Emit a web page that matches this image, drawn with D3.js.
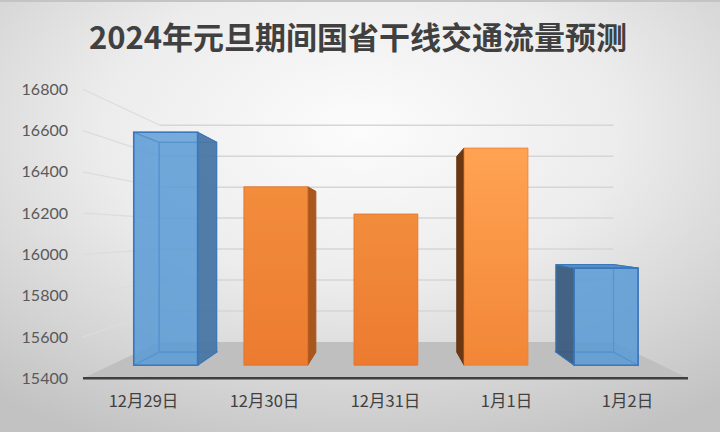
<!DOCTYPE html>
<html>
<head>
<meta charset="utf-8">
<script src="https://cdn.jsdelivr.net/npm/d3@7/dist/d3.min.js"></script>
<style>
  html, body { margin: 0; padding: 0; background: #fff; }
  svg { display: block; }
</style>
</head>
<body>
<svg id="chart" width="720" height="432"></svg>
<script>
// ---- data ----
const title = "2024年元旦期间国省干线交通流量预测";
const categories = ["12月29日", "12月30日", "12月31日", "1月1日", "1月2日"];
const values = [16640, 16350, 16205, 16556, 15917];
const yTicks = [15400, 15600, 15800, 16000, 16200, 16400, 16600, 16800];
const barKinds = ["blue", "orange", "orange", "orangeLight", "blue"];

// ---- styles ----
const palette = {
  blue:        { top: "#5f97cf", bottom: "#5f97cf", side: "#4b77a4", sideL: "#3c5d80", lid: "#5a8fc6", edge: "#3a78bd", transparent: true },
  orange:      { top: "#f28d3c", bottom: "#ec7b30", side: "#a8571f", sideL: "#6e3813", lid: "#f7a25c", edge: "#e2712a", transparent: false },
  orangeLight: { top: "#ffa352", bottom: "#f28637", side: "#a8571f", sideL: "#6a3712", lid: "#ffb26b", edge: "#ec8034", transparent: false }
};

const svg = d3.select("#chart");
const W = 720, H = 432;

// perspective parameters
const vx = 390, vy = 233;     // vanishing point
const kFloorBack = 0.75;      // back wall scale
const kBarFront = 0.91, kBarBack = 0.82;

const x = d3.scaleBand().domain(categories).range([83, 688]).paddingInner(0.42).paddingOuter(0.21);
const y = d3.scaleLinear().domain([15400, 16800]).range([378.3, 89.3]);

function P(X, Y, k) { return [vx + (X - vx) * k, vy + (Y - vy) * k]; }
function poly(pts) { return "M" + pts.map(p => p[0].toFixed(2) + "," + p[1].toFixed(2)).join("L") + "Z"; }

// ---- background ----
const defs = svg.append("defs");
const bg = defs.append("radialGradient").attr("id", "bg")
  .attr("cx", "50%").attr("cy", "30%").attr("r", "80%");
bg.append("stop").attr("offset", "0%").attr("stop-color", "#fcfcfc");
bg.append("stop").attr("offset", "45%").attr("stop-color", "#ececec");
bg.append("stop").attr("offset", "100%").attr("stop-color", "#c2c2c2");
svg.append("rect").attr("width", W).attr("height", H).attr("fill", "url(#bg)");
svg.append("rect").attr("width", W).attr("height", 2).attr("fill", "#c4c4c4");

barKinds.forEach((kind, i) => {
  const c = palette[kind];
  const g = defs.append("linearGradient").attr("id", "grad" + i)
    .attr("x1", 0).attr("y1", 0).attr("x2", 0).attr("y2", 1);
  g.append("stop").attr("offset", "0%").attr("stop-color", c.top);
  g.append("stop").attr("offset", "100%").attr("stop-color", c.bottom);
});

// ---- title ----
svg.append("text")
  .attr("x", 358).attr("y", 49)
  .attr("text-anchor", "middle")
  .attr("font-family", "'Noto Sans CJK SC', sans-serif")
  .attr("font-weight", "bold")
  .attr("font-size", 31)
  .attr("fill", "#404040")
  .text(title);

// ---- walls & gridlines ----
const yMin = y.domain()[0], xL = x.range()[0], xR = x.range()[1];
const grid = svg.append("g");
yTicks.filter(t => t !== yMin).forEach(t => {
  const a = P(xL, y(t), 1), b = P(xL, y(t), kFloorBack), c = P(xR, y(t), kFloorBack);
  grid.append("path").attr("d", `M${a}L${b}`).attr("stroke", "#dcdcdc").attr("stroke-width", 1.2).attr("fill", "none");
  grid.append("path").attr("d", `M${b}L${c}`).attr("stroke", "#d6d6d6").attr("stroke-width", 1.5).attr("fill", "none");
});

// ---- floor ----
svg.append("path")
  .attr("d", poly([P(xL, y(yMin), 1), P(xR, y(yMin), 1), P(xR, y(yMin), kFloorBack), P(xL, y(yMin), kFloorBack)]))
  .attr("fill", "#bfbfbf");
svg.append("line")
  .attr("x1", xL).attr("x2", xR).attr("y1", y(yMin)).attr("y2", y(yMin))
  .attr("stroke", "#3f3f3f").attr("stroke-width", 2.5);

// ---- bars ----
const bars = svg.append("g");
categories.forEach((cat, i) => {
  const c = palette[barKinds[i]];
  const X0 = x(cat), X1 = X0 + x.bandwidth();
  const Yt = y(values[i]), Yb = y(yMin);
  const g = bars.append("g");
  const f = (X, Y) => P(X, Y, kBarFront), b = (X, Y) => P(X, Y, kBarBack);
  const back = [b(X0, Yt), b(X1, Yt), b(X1, Yb), b(X0, Yb)];
  const front = [f(X0, Yt), f(X1, Yt), f(X1, Yb), f(X0, Yb)];
  const right = [f(X1, Yt), b(X1, Yt), b(X1, Yb), f(X1, Yb)];
  const left = [f(X0, Yt), b(X0, Yt), b(X0, Yb), f(X0, Yb)];
  const topF = [f(X0, Yt), f(X1, Yt), b(X1, Yt), b(X0, Yt)];
  const bottomF = [f(X0, Yb), f(X1, Yb), b(X1, Yb), b(X0, Yb)];
  const showRight = X1 < vx, showLeft = X0 > vx, showTop = Yt > vy;

  if (c.transparent) {
    [back, bottomF, showRight ? left : right].forEach(pts => {
      g.append("path").attr("d", poly(pts)).attr("fill", "#5b9bd5").attr("fill-opacity", 0.25)
        .attr("stroke", "#3b72ad").attr("stroke-width", 1.1);
    });
    if (!showTop) g.append("path").attr("d", poly(topF)).attr("fill", "none").attr("stroke", "#3b72ad").attr("stroke-width", 1.1);
  }
  if (showRight) g.append("path").attr("d", poly(right)).attr("fill", c.side).attr("fill-opacity", c.transparent ? 0.95 : 1)
    .attr("stroke", c.transparent ? c.edge : c.side).attr("stroke-width", 1);
  if (showLeft) g.append("path").attr("d", poly(left)).attr("fill", c.sideL).attr("fill-opacity", c.transparent ? 0.95 : 1)
    .attr("stroke", c.transparent ? c.edge : c.sideL).attr("stroke-width", 1);
  if (showTop) g.append("path").attr("d", poly(topF)).attr("fill", c.lid).attr("stroke", c.edge).attr("stroke-width", 1);
  g.append("path").attr("d", poly(front))
    .attr("fill", c.transparent ? "#5b9bd5" : `url(#grad${i})`)
    .attr("fill-opacity", c.transparent ? 0.82 : 1)
    .attr("stroke", c.edge).attr("stroke-width", c.transparent ? 1.6 : 0.8);
});

// ---- axes ----
const yAxis = svg.append("g").attr("transform", `translate(${xL},0)`)
  .call(d3.axisLeft(y).tickValues(yTicks).tickSize(0).tickPadding(15).tickFormat(d3.format("d")));
yAxis.select(".domain").remove();
yAxis.selectAll("text").attr("font-family", "Lato, 'Open Sans', sans-serif").attr("font-size", 16).attr("fill", "#595959");

const xAxis = svg.append("g").attr("transform", `translate(0,${y(yMin)})`)
  .call(d3.axisBottom(x).tickSize(0).tickPadding(17));
xAxis.select(".domain").remove();
xAxis.selectAll("text").attr("font-family", "'Noto Sans CJK SC', sans-serif").attr("font-size", 16.5).attr("fill", "#404040");
</script>
</body>
</html>
